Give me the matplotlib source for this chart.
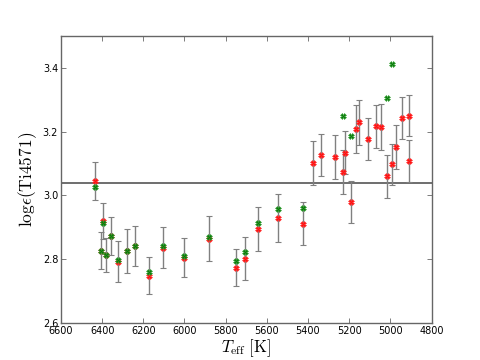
import numpy as np
import matplotlib
matplotlib.use("Agg")
import matplotlib.pyplot as plt

plt.rcParams['mathtext.fontset'] = 'cm'
plt.rcParams['font.family'] = ['DejaVu Sans']

teff = [6435, 6407, 6396, 6381, 6357, 6324, 6280, 6240, 6170, 6102,
        6003, 5880, 5748, 5705, 5643, 5544, 5422, 5377, 5336, 5267,
        5231, 5218, 5192, 5165, 5150, 5109, 5069, 5044, 5015, 4994,
        4971, 4945, 4908, 4908]
red_vals = [3.045, 2.827, 2.921, 2.814, 2.874, 2.793, 2.826, 2.841, 2.749, 2.837,
            2.805, 2.865, 2.774, 2.802, 2.895, 2.930, 2.912, 3.102, 3.126, 3.119,
            3.073, 3.134, 2.980, 3.208, 3.229, 3.176, 3.216, 3.214, 3.060, 3.098,
            3.151, 3.242, 3.250, 3.107]
red_err = [0.060, 0.058, 0.056, 0.053, 0.059, 0.065, 0.068, 0.062, 0.057, 0.063,
           0.061, 0.071, 0.057, 0.067, 0.069, 0.076, 0.066, 0.068, 0.066, 0.069,
           0.069, 0.067, 0.066, 0.074, 0.070, 0.065, 0.068, 0.071, 0.067, 0.064,
           0.068, 0.066, 0.065, 0.066]
nan = np.nan
green_vals = [3.026, 2.827, 2.913, 2.814, 2.874, 2.798, 2.826, 2.841, 2.760, 2.842,
              2.812, 2.870, 2.795, 2.824, 2.914, 2.957, 2.960, nan, nan, nan,
              3.250, nan, 3.187, nan, nan, nan, nan, nan, 3.304, 3.412,
              nan, nan, nan, nan]
ref_level = 3.04

xticks = [6600, 6400, 6200, 6000, 5800, 5600, 5400, 5200, 5000, 4800]
yticks = [2.6, 2.8, 3.0, 3.2, 3.4]

fig = plt.figure(figsize=(4.8, 3.6), dpi=100)
ax = fig.add_axes([0.127, 0.102, 0.772, 0.799])

ax.axhline(ref_level, color='#555555', lw=1.2, zorder=1)
ax.errorbar(teff, red_vals, yerr=red_err, fmt='none', ecolor='#808080',
            elinewidth=1.0, capsize=2.5, capthick=0.8, zorder=2)
ax.plot(teff, red_vals, ls='none', marker='X', ms=4.2, color='#ff1010',
        mec='#ff3030', mew=0.4, zorder=3)
ax.plot(teff, green_vals, ls='none', marker='X', ms=4.2, color='#0a7a0a',
        mec='#30a030', mew=0.4, zorder=4)

ax.set_xlim(6600, 4800)
ax.set_ylim(2.6, 3.5)
ax.set_xticks(xticks)
ax.set_yticks(yticks)
ax.set_xticklabels([str(t) for t in xticks])
ax.set_yticklabels(['%.1f' % v for v in yticks])
ax.tick_params(direction='in', top=True, right=True, length=3.5, width=0.6,
               color='#666666', labelsize=7, pad=2)
for s in ax.spines.values():
    s.set_color('#666666')
    s.set_linewidth(1.0)

ax.set_xlabel(r'$T_{\rm eff}\ [\rm K]$', fontsize=12, labelpad=1)
ax.set_ylabel(r'$\mathrm{log}\epsilon(\mathrm{Ti4571})$', fontsize=12.5, labelpad=3)

fig.savefig('out.png', dpi=100)
